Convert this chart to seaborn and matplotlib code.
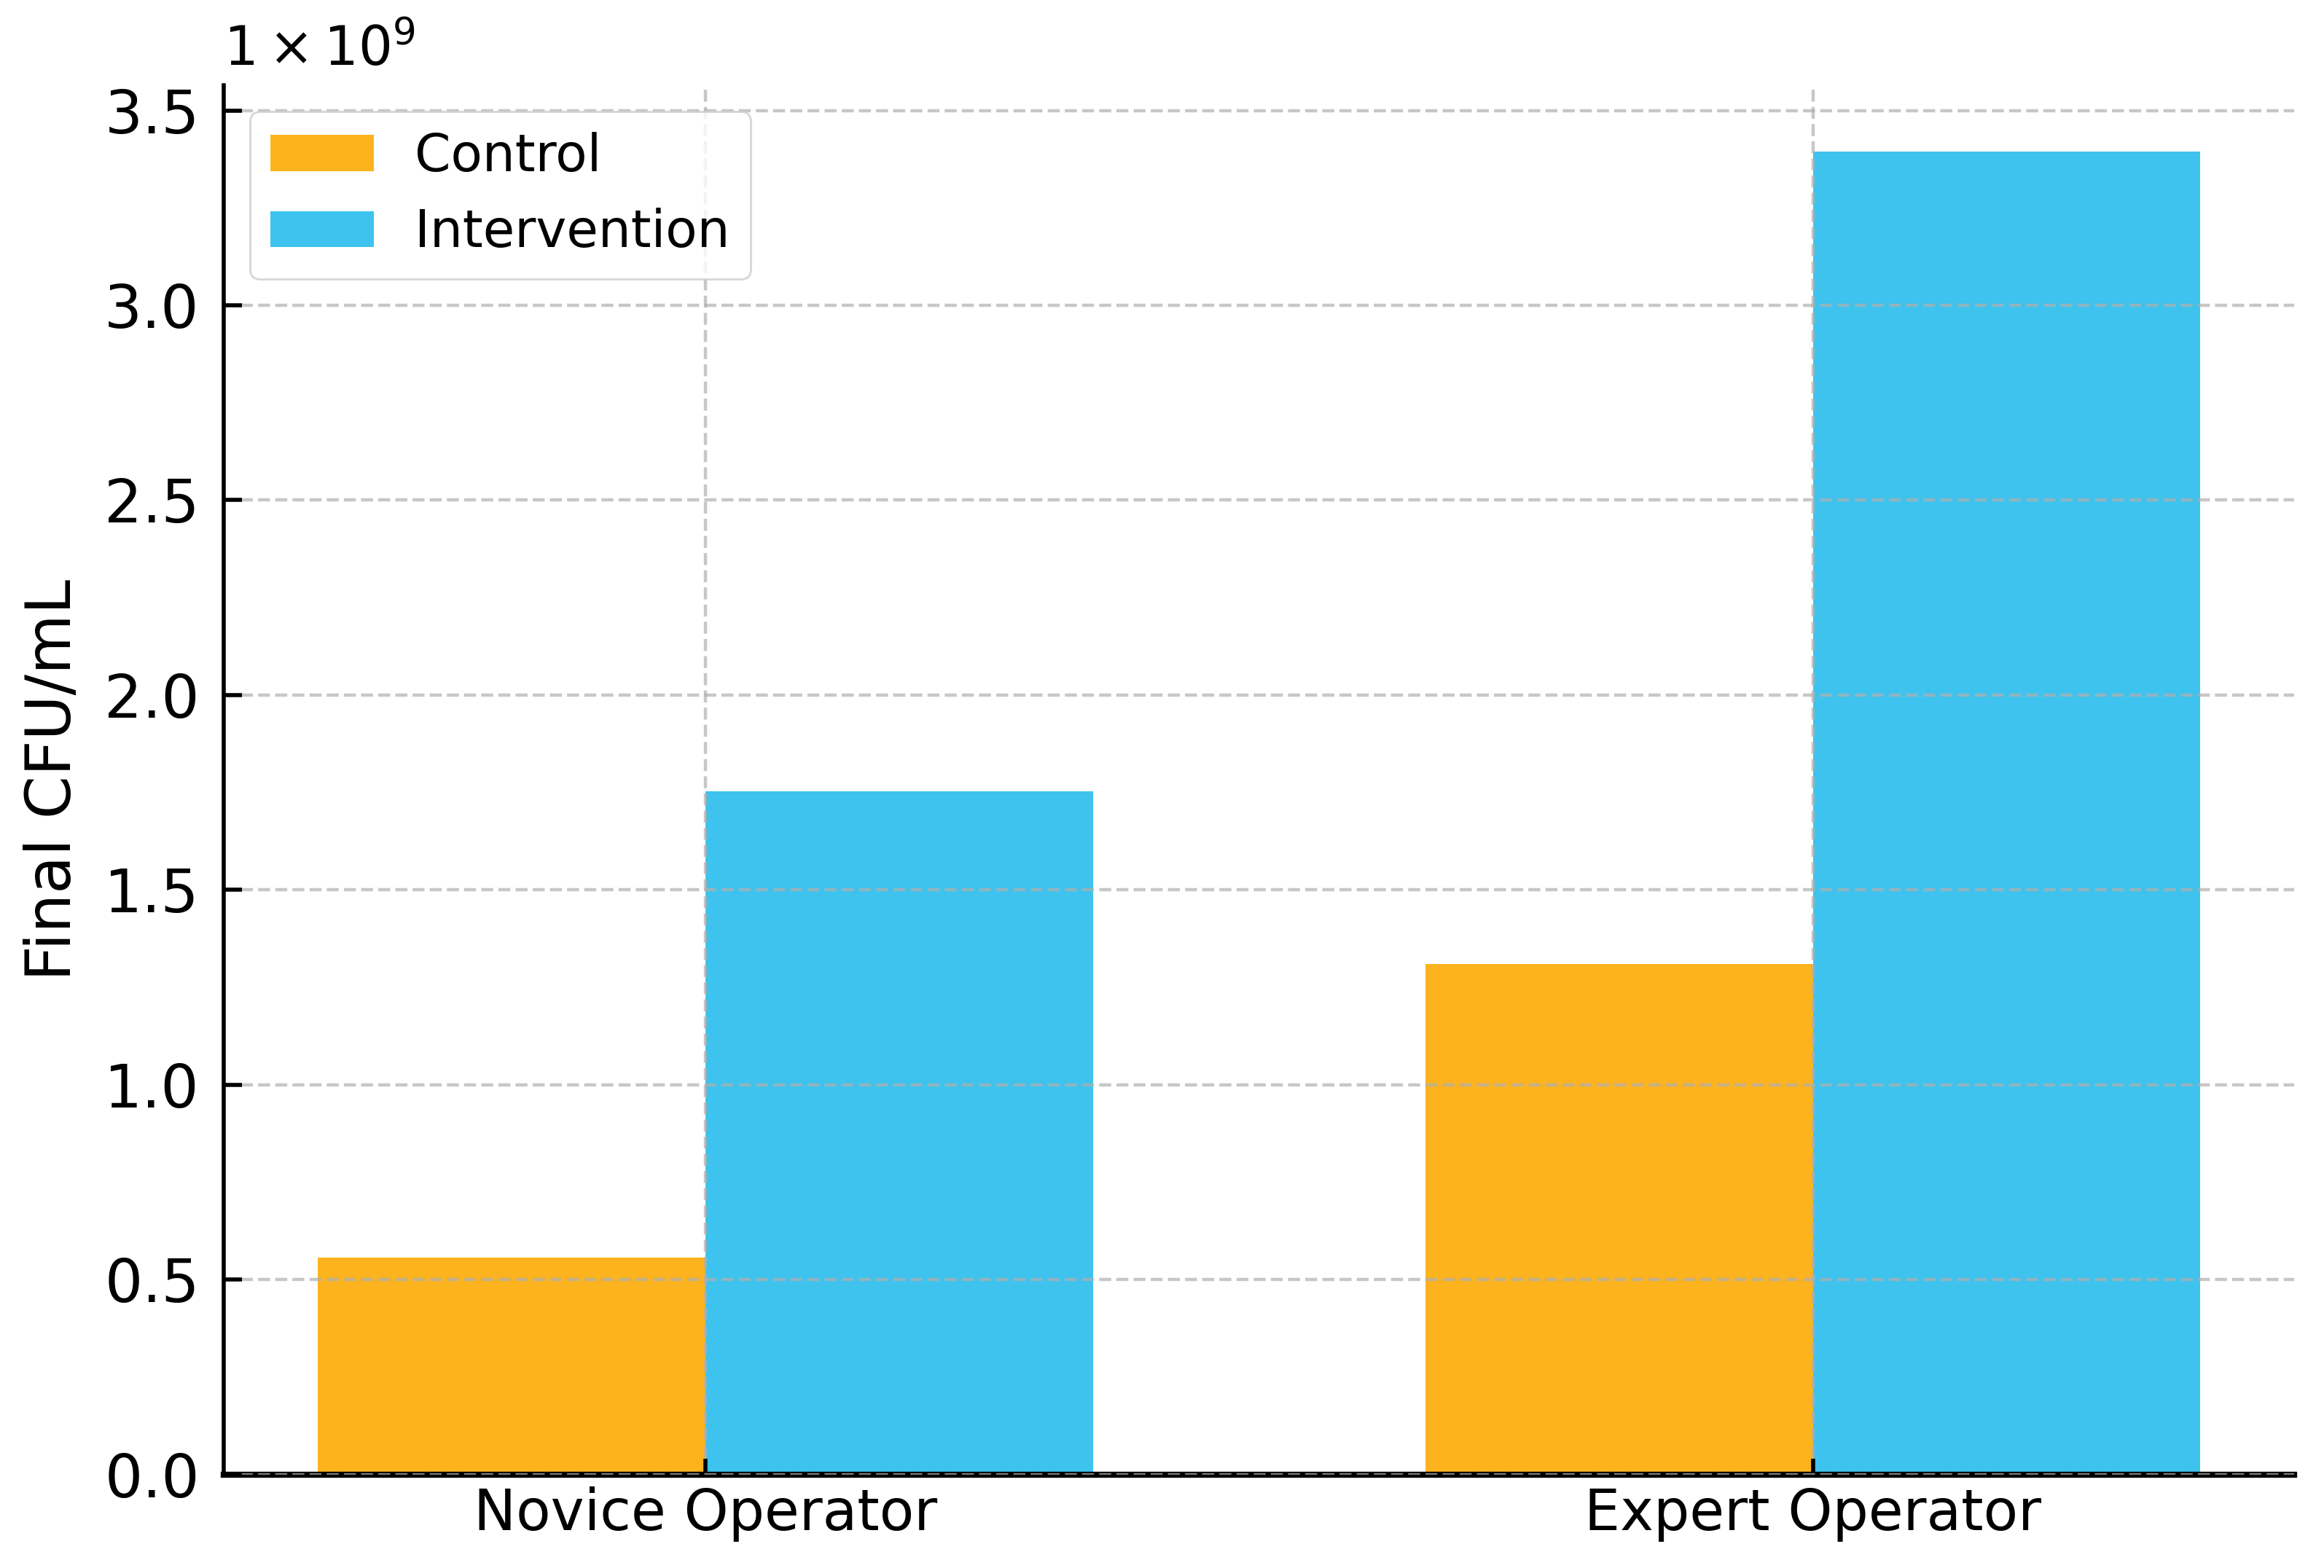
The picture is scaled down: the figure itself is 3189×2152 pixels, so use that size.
import matplotlib
matplotlib.use("Agg")
import matplotlib.pyplot as plt
import seaborn as sns
import pandas as pd

operators = ["Novice Operator", "Expert Operator"]
groups = ["Control", "Intervention"]
control_values = [0.557e9, 1.310e9]
intervention_values = [1.752e9, 3.394e9]
colors = ["#FDB31E", "#3DC3EE"]

rows = []
for op, c, iv in zip(operators, control_values, intervention_values):
    rows.append({"Operator": op, "Group": groups[0], "CFU": c})
    rows.append({"Operator": op, "Group": groups[1], "CFU": iv})
df = pd.DataFrame(rows)

fig = plt.figure(figsize=(3189 / 200, 2152 / 200), dpi=200)
ax = fig.add_axes([0.0963, 0.0597, 0.9873 - 0.0963, 0.9455 - 0.0597])

sns.barplot(data=df, x="Operator", y="CFU", hue="Group", order=operators,
            hue_order=groups, palette=colors, width=0.7, saturation=1,
            errorbar=None, ax=ax)

ax.set_xlim(-0.435, 1.435)
ax.set_ylim(0, 3.564e9)
ax.set_xlabel("")
ax.set_ylabel("Final CFU/mL", fontsize=30.5, labelpad=10)

ax.set_yticks([i * 0.5e9 for i in range(8)])
ax.set_yticklabels([f"{i * 0.5:.1f}" for i in range(8)])
ax.text(0, 1.006, r"$\mathdefault{1\times10^{9}}$", transform=ax.transAxes,
        ha="left", va="bottom", fontsize=26.5)

ax.tick_params(axis="both", direction="in", width=2)
ax.tick_params(axis="y", length=9, pad=12, labelsize=29.5)
ax.tick_params(axis="x", length=8, pad=6, labelsize=28)

ax.grid(True, linestyle="--", color="#b0b0b0", alpha=0.7, linewidth=1.6)
ax.set_axisbelow(False)
for p in ax.patches:
    p.set_zorder(1)

ax.spines["top"].set_visible(False)
ax.spines["right"].set_visible(False)
ax.spines["left"].set_linewidth(2)
ax.spines["bottom"].set_linewidth(3)

leg = ax.legend(loc="upper left", fontsize=25.5, title=None)

fig.savefig("out.png", dpi=200)
